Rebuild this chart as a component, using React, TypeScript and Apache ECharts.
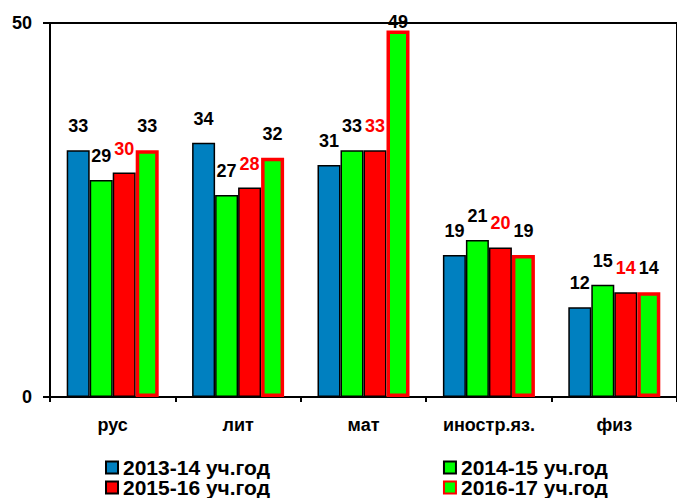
import React, { useEffect, useRef } from "react";
import * as echarts from "echarts";

const categories = ["рус", "лит", "мат", "иностр.яз.", "физ"];
const seriesNames = ["2013-14 уч.год", "2014-15 уч.год", "2015-16 уч.год", "2016-17 уч.год"];
const s2013 = [33, 34, 31, 19, 12];
const s2014 = [29, 27, 33, 21, 15];
const s2015 = [30, 28, 33, 20, 14];
const s2016 = [33, 32, 49, 19, 14];
const yTicks = [0, 50];

const FONT = "'Liberation Sans', Arial, sans-serif";

export default function App() {
  const ref = useRef<HTMLDivElement>(null);
  useEffect(() => {
    if (!ref.current) return;
    const chart = echarts.init(ref.current, undefined, { renderer: "svg" });
    const mkLabel = (color: string) => ({
      show: true,
      position: "top",
      distance: 15,
      color,
      fontFamily: FONT,
      fontWeight: "bold",
      fontSize: 18,
    });
    const styles = [
      { color: "#0080C0", borderColor: "#000", borderWidth: 1.5 },
      { color: "#00FF00", borderColor: "#000", borderWidth: 1.5 },
      { color: "#FF0000", borderColor: "#000", borderWidth: 1.5 },
      { color: "#00FF00", borderColor: "#FF0000", borderWidth: 3.5 },
    ];
    const data = [s2013, s2014, s2015, s2016];
    const labelColors = ["#000", "#000", "#FF0000", "#000"];
    const yMax = yTicks[1];
    // labels of bars reaching near the top of the plot sit lower so they stay inside
    const buildData = (arr: number[]) =>
      arr.map((v) => (v > yMax - 3 ? { value: v, label: { distance: -1 } } : v));
    const legendCommon = {
      left: 100,
      icon: "rect",
      itemWidth: 12,
      itemHeight: 12,
      itemGap: 173,
      textStyle: { fontFamily: FONT, fontWeight: "bold", fontSize: 21, color: "#000" },
      selectedMode: false,
    };
    chart.setOption({
      animation: false,
      backgroundColor: "#fff",
      grid: {
        left: 50,
        top: 23,
        width: 632,
        height: 374,
        show: true,
        borderColor: "#000",
        borderWidth: 2,
      },
      legend: [
        { ...legendCommon, top: 452, data: [seriesNames[0], seriesNames[1]] },
        { ...legendCommon, top: 472, data: [seriesNames[2], seriesNames[3]] },
      ],
      xAxis: {
        type: "category",
        data: categories,
        axisLine: { lineStyle: { color: "#000", width: 2 } },
        axisTick: { show: true, length: 5, lineStyle: { color: "#000", width: 2 } },
        axisLabel: {
          margin: 19,
          color: "#000",
          fontFamily: FONT,
          fontWeight: "bold",
          fontSize: 18,
        },
      },
      yAxis: {
        type: "value",
        min: yTicks[0],
        max: yTicks[1],
        interval: 50,
        splitLine: { show: false },
        axisLine: { show: true, lineStyle: { color: "#000", width: 2 } },
        axisTick: { show: true, length: 7, lineStyle: { color: "#000", width: 2 } },
        axisLabel: {
          margin: 18,
          color: "#000",
          fontFamily: FONT,
          fontWeight: "bold",
          fontSize: 18,
        },
      },
      series: seriesNames.map((name, i) => ({
        name,
        type: "bar",
        data: buildData(data[i]),
        barWidth: 23,
        barGap: "0%",
        itemStyle: styles[i],
        label: mkLabel(labelColors[i]),
      })),
    });
    return () => chart.dispose();
  }, []);
  return (
    <div
      ref={ref}
      style={{ position: "fixed", left: 0, top: 0, width: 677, height: 498, background: "#fff" }}
    />
  );
}
